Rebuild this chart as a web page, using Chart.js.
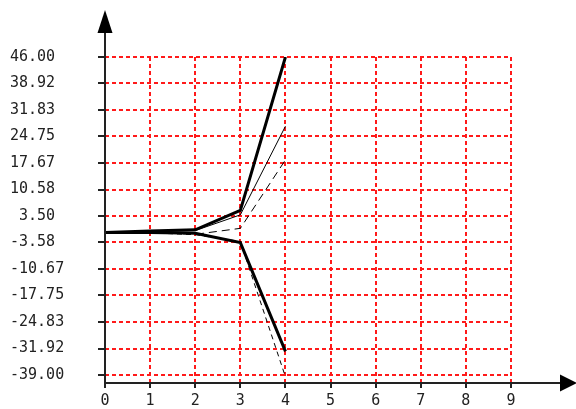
<!DOCTYPE html>
<html>
<head>
<meta charset="utf-8">
<script src="https://cdn.jsdelivr.net/npm/chart.js@4.4.0/dist/chart.umd.min.js"></script>
<style>
  body { margin: 0; background: #fff; }
  canvas { display: block; }
</style>
</head>
<body>
<canvas id="grafico" width="576" height="409"></canvas>
<script>
// valores
var xs = [0, 1, 2, 3, 4];
var grossoCima = [-0.9, -0.5, -0.2, 5.0, 46.0];
var finoCima = [-0.9, -0.6, -0.4, 3.8, 27.5];
var tracoCima = [-0.9, -0.9, -1.4, 0.2, 18.5];
var grossoBaixo = [-0.9, -0.9, -1.1, -3.6, -32.7];
var tracoBaixo = [-0.9, -1.0, -1.5, -3.3, -39.5];

var xTicks = [0, 1, 2, 3, 4, 5, 6, 7, 8, 9];
var yTicks = [46.00, 38.92, 31.83, 24.75, 17.67, 10.58, 3.50, -3.58, -10.67, -17.75, -24.83, -31.92, -39.00];

function pontos(valores) {
  var p = [];
  for (var i = 0; i < xs.length; i++) {
    p.push({ x: xs[i], y: valores[i] });
  }
  return p;
}

function serie(valores, largura, traco) {
  return {
    data: pontos(valores),
    borderColor: "#000",
    borderWidth: largura,
    borderDash: traco,
    pointRadius: 0,
    tension: 0,
    fill: false,
  };
}

// grade vermelha tracejada
var grade = {
  id: "grade",
  beforeDatasetsDraw: function (chart) {
    var ctx = chart.ctx;
    var area = chart.chartArea;
    var sx = chart.scales.x;
    var sy = chart.scales.y;
    ctx.save();
    ctx.strokeStyle = "#ff1a1a";
    ctx.lineWidth = 2;
    ctx.setLineDash([4, 3]);
    for (var i = 0; i < yTicks.length; i++) {
      var py = Math.round(sy.getPixelForValue(yTicks[i]));
      ctx.beginPath();
      ctx.moveTo(area.left, py);
      ctx.lineTo(area.right, py);
      ctx.stroke();
    }
    for (var j = 1; j < xTicks.length; j++) {
      var px = Math.round(sx.getPixelForValue(xTicks[j]));
      ctx.beginPath();
      ctx.moveTo(px, area.top);
      ctx.lineTo(px, area.bottom);
      ctx.stroke();
    }
    ctx.restore();
  },
};

// eixos com setas e marcas
var eixos = {
  id: "eixos",
  afterDraw: function (chart) {
    var ctx = chart.ctx;
    var area = chart.chartArea;
    var sx = chart.scales.x;
    var sy = chart.scales.y;
    ctx.save();
    ctx.strokeStyle = "#222";
    ctx.fillStyle = "#000";
    ctx.lineWidth = 2;
    ctx.beginPath();
    ctx.moveTo(area.left, area.bottom);
    ctx.lineTo(area.left, 30);
    ctx.moveTo(area.left, area.bottom);
    ctx.lineTo(562, area.bottom);
    for (var i = 0; i < yTicks.length; i++) {
      var py = Math.round(sy.getPixelForValue(yTicks[i]));
      ctx.moveTo(area.left - 7, py);
      ctx.lineTo(area.left, py);
    }
    for (var j = 0; j < xTicks.length; j++) {
      var px = Math.round(sx.getPixelForValue(xTicks[j]));
      ctx.moveTo(px, area.bottom);
      ctx.lineTo(px, area.bottom + 5);
    }
    ctx.stroke();

    ctx.beginPath();
    ctx.moveTo(area.left, 10);
    ctx.lineTo(area.left - 7.5, 33);
    ctx.lineTo(area.left + 7.5, 33);
    ctx.closePath();
    ctx.fill();

    ctx.beginPath();
    ctx.moveTo(577, area.bottom);
    ctx.lineTo(560, area.bottom - 8.5);
    ctx.lineTo(560, area.bottom + 8.5);
    ctx.closePath();
    ctx.fill();
    ctx.restore();
  },
};

const fonte = { family: "DejaVu Sans Mono", size: 15 };

new Chart(document.getElementById("grafico"), {
  type: "line",
  data: {
    datasets: [
      serie(tracoCima, 1, [8, 5]),
      serie(finoCima, 1, []),
      serie(tracoBaixo, 1, [5, 4]),
      serie(grossoCima, 3, []),
      serie(grossoBaixo, 3, []),
    ],
  },
  options: {
    responsive: false,
    devicePixelRatio: 1,
    animation: false,
    layout: {
      padding: { left: 10, top: 57, right: 65, bottom: 0 },
    },
    plugins: {
      legend: { display: false },
      tooltip: { enabled: false },
    },
    scales: {
      x: {
        type: "linear",
        min: 0,
        max: 9,
        afterBuildTicks: function (scale) {
          scale.ticks = xTicks.map(function (v) { return { value: v }; });
        },
        afterFit: function (scale) {
          scale.height = 26;
        },
        grid: { display: false, drawTicks: false },
        border: { display: false },
        ticks: {
          color: "#222",
          font: fonte,
          padding: 9,
          maxRotation: 0,
          callback: function (v) { return String(v); },
        },
      },
      y: {
        type: "linear",
        min: -41.14,
        max: 46,
        afterBuildTicks: function (scale) {
          scale.ticks = yTicks.map(function (v) { return { value: v }; });
        },
        afterFit: function (scale) {
          scale.width = 95;
        },
        grid: { display: false, drawTicks: false },
        border: { display: false },
        ticks: {
          color: "#222",
          font: fonte,
          crossAlign: "far",
          callback: function (v) { return v.toFixed(2).padStart(5, " "); },
        },
      },
    },
  },
  plugins: [grade, eixos],
});
</script>
</body>
</html>
